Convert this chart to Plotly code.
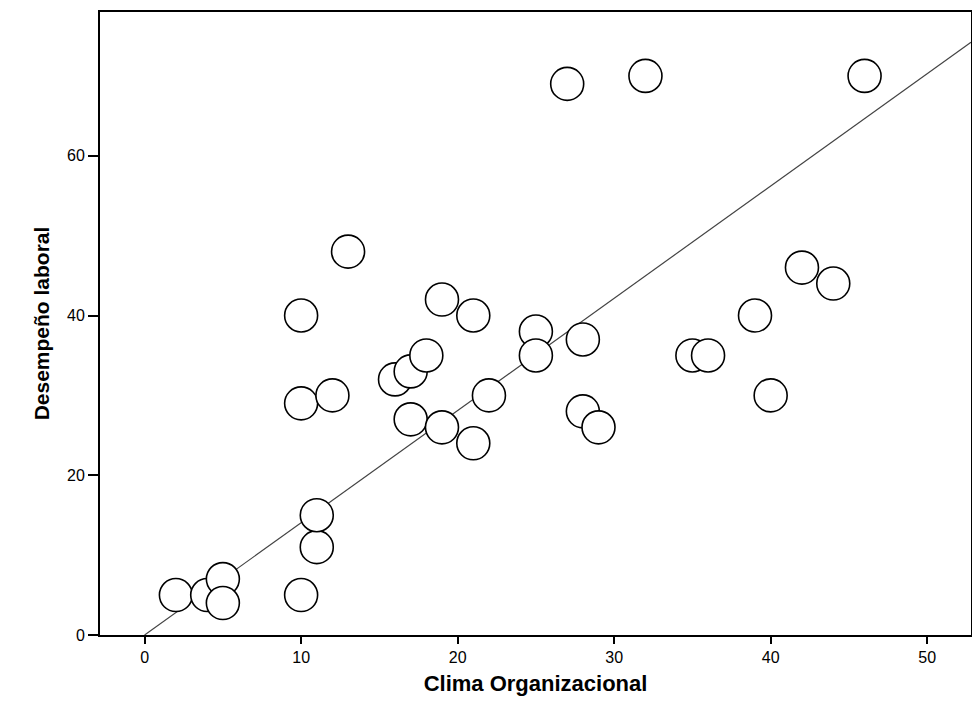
import plotly.graph_objects as go

clima = [2, 4, 5, 5, 10, 11, 11, 10, 10, 12, 13, 16, 17, 18, 17, 19, 19, 21, 21, 22,
         25, 25, 27, 28, 28, 29, 32, 35, 36, 39, 40, 42, 44, 46]
desempeno = [5, 5, 7, 4, 5, 11, 15, 29, 40, 30, 48, 32, 33, 35, 27, 42, 26, 40, 24, 30,
             38, 35, 69, 37, 28, 26, 70, 35, 35, 40, 30, 46, 44, 70]

fit_x = [0, 52.8]
fit_y = [0, 74.2]

x_ticks = [0, 10, 20, 30, 40, 50]
y_ticks = [0, 20, 40, 60]

fig = go.Figure()
fig.add_trace(go.Scatter(x=fit_x, y=fit_y, mode="lines",
                         line=dict(color="#444444", width=1.2),
                         hoverinfo="skip", showlegend=False))
fig.add_trace(go.Scatter(x=clima, y=desempeno, mode="markers",
                         marker=dict(symbol="circle", size=33, color="white",
                                     line=dict(color="black", width=1.6)),
                         showlegend=False))

axis_common = dict(showline=True, linecolor="black", linewidth=2, mirror=True,
                   ticks="outside", tickwidth=2, tickcolor="black",
                   showgrid=False, zeroline=False,
                   tickfont=dict(family="Liberation Sans, Arial", size=16, color="black"))

fig.update_xaxes(range=[-2.85, 52.8], tickvals=x_ticks, ticklen=7,
                 title=dict(text="<b>Clima Organizacional</b>", standoff=10,
                            font=dict(family="Liberation Sans, Arial", size=22, color="black")),
                 **axis_common)
fig.update_yaxes(range=[0, 78], tickvals=y_ticks, ticklen=10,
                 title=dict(text="<b>Desempeño laboral</b>", standoff=12,
                            font=dict(family="Liberation Sans, Arial", size=21, color="black")),
                 **axis_common)

fig.update_layout(width=972, height=705,
                  margin=dict(l=92, r=9, t=4, b=78, autoexpand=False),
                  paper_bgcolor="white", plot_bgcolor="white")

fig.write_html("out.html")
